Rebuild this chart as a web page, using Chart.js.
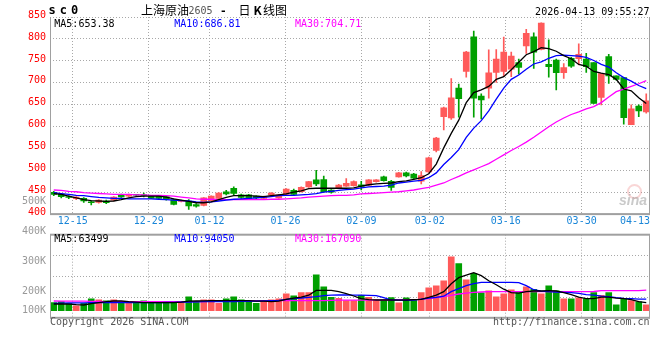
<!DOCTYPE html>
<html><head><meta charset="utf-8">
<script src="https://cdn.jsdelivr.net/npm/chart.js@4/dist/chart.umd.min.js"></script>
<style>
html,body{margin:0;padding:0;background:#fff;}
#wrap{position:relative;width:660px;height:360px;overflow:hidden;font-family:'DejaVu Sans Mono',monospace;}
canvas{position:absolute;left:0;top:0;}
.t{position:absolute;white-space:nowrap;font-size:10px;line-height:12px;font-family:'DejaVu Sans Mono',monospace;}
.cjk{position:absolute;white-space:nowrap;font-size:12px;line-height:14px;font-family:'Noto Sans CJK SC',sans-serif;color:#000;}
</style></head><body>
<div id="wrap">
<canvas id="pc" width="660" height="232"></canvas>
<canvas id="vc" width="660" height="360"></canvas>
</div>
<script>
// ---------- data ----------
const dates = ['12-10','12-11','12-12','12-15','12-16','12-17','12-18','12-19','12-22','12-23',
'12-24','12-25','12-26','12-29','12-30','12-31','01-05','01-06','01-07','01-08',
'01-09','01-12','01-13','01-14','01-15','01-16','01-19','01-20','01-21','01-22',
'01-23','01-26','01-27','01-28','01-29','01-30','02-02','02-03','02-04','02-05',
'02-06','02-09','02-10','02-11','02-12','02-13','02-24','02-25','02-26','02-27',
'03-02','03-03','03-04','03-05','03-06','03-09','03-10','03-11','03-12','03-13',
'03-16','03-17','03-18','03-19','03-20','03-23','03-24','03-25','03-26','03-27',
'03-30','03-31','04-01','04-02','04-03','04-07','04-08','04-09','04-10','04-13'];
const tickDates = ['12-15','12-29','01-12','01-26','02-09','03-02','03-16','03-30','04-13'];
const priceTicks = [400,450,500,550,600,650,700,750,800,850];
const volTickLabels = ['500K','400K','300K','200K','100K'];
const volTickValues = [500000,400000,300000,200000,100000];
const priceLegend = ['MA5:653.38','MA10:686.81','MA30:704.71'];
const volLegend = ['MA5:63499','MA10:94050','MA30:167090'];

const openP = [451,447,440,436,437,429,428,431,433,446,442,445,444,443,442,441,434,430,431,423,
421,432,437,452,460,445,445,442,437,445,438,446,455,452,463,479,480,456,460,465,
466,468,467,475,486,476,486,495,492,476,497,546,623,620,688,726,805,670,688,724,
726,731,746,784,805,776,742,752,723,756,755,754,746,667,760,716,712,605,647,634];
const closeP = [446,441,439,440,431,427,433,427,440,440,446,444,443,437,437,435,423,432,420,419,
438,442,449,447,448,439,437,438,441,449,445,458,446,462,475,470,452,451,467,471,
475,464,479,479,477,462,495,488,483,489,529,574,643,666,664,770,665,661,723,754,
770,761,735,813,770,836,737,723,735,738,765,737,653,721,716,708,621,641,636,659];
const highP = [453,448,443,441,439,431,434,433,441,447,447,446,449,444,443,442,436,433,434,425,
439,443,450,455,463,447,446,443,442,450,446,459,458,463,476,501,488,457,469,482,
477,476,480,480,488,478,496,497,494,498,531,576,645,710,697,772,818,675,775,776,
804,770,754,822,814,837,798,754,744,758,789,767,746,722,765,716,712,650,650,675];
const lowP = [443,438,436,434,428,422,426,425,431,439,441,442,440,436,436,433,422,429,412,417,
420,431,436,445,445,437,436,436,436,444,437,445,443,451,462,466,451,449,459,464,
465,456,466,474,476,455,485,486,482,470,496,543,593,617,622,713,622,618,665,701,
714,714,720,767,733,775,713,684,710,735,741,724,653,650,699,706,606,605,623,631];
const ma5 = [448,446,442,438,434,432,431,430,431,434,438,441,442,442,442,440,436,433,430,427,
427,429,434,439,443,443,443,442,441,443,445,447,451,454,459,460,460,460,460,460,
461,465,468,470,471,472,475,477,480,484,493,515,552,585,615,655,678,684,692,708,
714,730,747,764,771,780,778,772,762,755,742,738,726,722,719,708,686,682,666,653];
const ma10 = [450,448,446,444,443,441,439,438,437,437,436,436,436,436,435,434,433,432,431,429,
428,429,431,433,435,436,437,438,439,441,443,444,444,445,446,448,451,453,455,457,
458,461,463,464,465,467,472,474,476,478,484,495,514,530,548,576,597,614,636,663,
688,708,718,731,743,748,756,762,763,762,761,758,751,742,736,723,712,704,694,687];
const ma30 = [456,455,453,452,450,449,448,447,446,446,446,445,445,444,444,443,442,440,438,436,
435,435,434,434,434,434,434,434,434,435,435,436,437,438,440,441,442,443,444,444,
445,447,448,449,450,451,452,454,456,459,462,467,472,480,487,495,502,509,516,526,
536,546,555,565,576,588,600,611,620,628,634,641,646,655,668,680,686,692,698,705];
const volume = [64000,72000,58000,38000,58000,94000,86000,78000,86000,72000,
64000,64000,78000,64000,64000,64000,70000,70000,110000,70000,
86000,86000,58000,94000,110000,86000,72000,58000,72000,86000,
94000,134000,118000,144000,144000,286000,190000,106000,98000,80000,
80000,122000,106000,86000,86000,104000,62000,102000,86000,144000,
182000,198000,238000,430000,376000,246000,298000,142000,158000,110000,
134000,166000,144000,190000,170000,134000,198000,158000,94000,94000,
102000,94000,144000,122000,144000,46000,98000,80000,70000,46000];
const vma5 = [53600,53600,52000,48000,45600,56000,64000,72000,77600,77600,
72000,68000,64000,64000,64000,64000,64000,68000,76000,77600,
78400,80000,80000,80000,80000,80000,80000,76000,76000,72000,
76000,90400,100000,108000,124000,162400,162400,162400,152000,136000,
117600,96000,88000,85600,85600,85600,84000,85600,88000,90400,
106400,124000,152000,216000,264000,284000,304000,280000,240000,208000,
172000,144000,140000,152000,157600,157600,160000,157600,144000,128000,
108000,96000,96000,108000,108000,100000,96000,88000,72000,64000];
const vma10 = [58400,60000,61600,62400,62400,64000,64000,64000,64000,64000,
64000,64000,64000,64000,64000,65600,66400,68000,69600,70400,
72000,72000,72000,72800,73600,74400,75200,76000,77600,80000,
82400,90400,96000,101600,106400,112000,120000,124000,125600,125600,
124000,124000,122400,120000,104000,85600,84000,82400,84000,92000,
100000,106400,116000,152000,176000,200000,216000,226400,226400,226400,
226400,226400,224000,200000,168000,156000,152000,149600,146400,144000,
138400,128000,124000,116000,112000,104000,98400,96000,92000,92000];
const vma30 = [77600,76800,76000,76000,76000,75200,73600,72000,72000,72000,
72000,72000,72000,72000,72000,72000,72000,72000,72000,72000,
73600,76000,77600,80000,80000,80000,80000,80000,80000,80000,
80000,80000,80000,80000,80000,80000,80000,82400,84000,84000,
84000,84000,84000,84000,84000,85600,88000,88000,88000,90400,
96000,104000,112000,122400,133600,140000,146400,149600,152000,152000,
152000,152000,152000,152000,152000,152000,152000,152000,152000,152000,
152000,152000,153600,160000,160000,160000,160000,160000,160000,164000];

// ---------- styles ----------
const RED = '#ff5a5a', GREEN = '#00a000', GRID = '#a8a8a8', FRAME = '#a0a0a0';
const MA_COLORS = ['#000000', '#0000ff', '#ff00ff'];
Chart.defaults.font.family = "'DejaVu Sans Mono', monospace";
Chart.defaults.font.size = 10;

const idx = dates.map((d, i) => i);
const colors = idx.map(i => closeP[i] >= openP[i] ? RED : GREEN);
const tickIdx = tickDates.map(d => dates.indexOf(d));
const lastIdx = dates.length - 1;

const framePlugin = {
  id: 'frame',
  afterDraw(chart, args, opts) {
    const { ctx, chartArea: a } = chart;
    ctx.save();
    ctx.fillStyle = FRAME;
    ctx.fillRect(a.left, a.top, 1, a.bottom - a.top);           // left
    ctx.fillRect(a.right - 1, a.top, 1, a.bottom - a.top);      // right
    ctx.fillRect(a.left, a.bottom - 1.5, a.right - a.left, 2);  // bottom
    if (opts.solidTop) ctx.fillRect(a.left, a.top - 1, a.right - a.left, 2);
    ctx.restore();
  }
};

function xAxes(showLabels) {
  return {
    x: { type: 'linear', min: -0.5, max: lastIdx + 0.5, offset: false, display: false },
    xg: {
      type: 'linear', position: 'bottom', min: 0, max: lastIdx, offset: false,
      afterBuildTicks: ax => { ax.ticks = [0, ...tickIdx].map(v => ({ value: v })); },
      ticks: {
        display: showLabels, autoSkip: false, maxRotation: 0, minRotation: 0, align: 'inner', padding: 1,
        color: '#1a86d8', font: { size: 10 },
        callback: v => { const k = tickIdx.indexOf(v); return k >= 0 ? tickDates[k] : ''; }
      },
      grid: {
        drawTicks: false, lineWidth: 1, offset: false,
        color: c => (c.tick && (c.tick.value === 0 || c.tick.value === lastIdx)) ? 'rgba(0,0,0,0)' : GRID
      },
      border: { display: false, dash: [1, 2] },
      afterFit: s => { s.height = showLabels ? 17.4 : 0; }
    }
  };
}

function lineDs(label, arr, color) {
  return { type: 'line', label, xAxisID: 'x', data: idx.map(i => ({ x: i, y: arr[i] })),
    borderColor: color, borderWidth: 1.3, pointRadius: 0, tension: 0, order: 1 };
}

// ---------- price chart ----------
new Chart(document.getElementById('pc'), {
  data: {
    datasets: [
      lineDs('MA5', ma5, MA_COLORS[0]),
      lineDs('MA10', ma10, MA_COLORS[1]),
      lineDs('MA30', ma30, MA_COLORS[2]),
      { type: 'bar', label: 'wick', xAxisID: 'x', data: idx.map(i => ({ x: i, y: [lowP[i], highP[i]] })),
        backgroundColor: colors, barThickness: 1, grouped: false, order: 3 },
      { type: 'bar', label: 'body', xAxisID: 'x', data: idx.map(i => ({ x: i, y: [openP[i], closeP[i]] })),
        backgroundColor: colors, barThickness: 6, minBarLength: 1, grouped: false, order: 2 }
    ]
  },
  options: {
    responsive: false, animation: false, devicePixelRatio: 1,
    layout: { padding: { left: 0, right: 10, top: 17, bottom: 0 } },
    plugins: { legend: { display: false }, tooltip: { enabled: false }, frame: { solidTop: false } },
    scales: Object.assign(xAxes(true), {
      y: {
        type: 'linear', position: 'left', min: priceTicks[0], max: priceTicks[priceTicks.length - 1],
        afterBuildTicks: ax => { ax.ticks = priceTicks.map(v => ({ value: v })); },
        ticks: { color: '#ff0000', font: { size: 10 }, padding: 4, labelOffset: -2 },
        grid: { drawTicks: false, color: c => (c.tick && c.tick.value === priceTicks[0]) ? 'rgba(0,0,0,0)' : GRID },
        border: { display: false, dash: [1, 2] },
        afterFit: s => { s.width = 50; }
      }
    })
  },
  plugins: [framePlugin]
});

// ---------- volume chart ----------
const VMIN = -60800, VMAX = 608000;
new Chart(document.getElementById('vc'), {
  data: {
    datasets: [
      lineDs('VMA5', vma5, MA_COLORS[0]),
      lineDs('VMA10', vma10, MA_COLORS[1]),
      lineDs('VMA30', vma30, MA_COLORS[2]),
      { type: 'bar', label: 'vol', xAxisID: 'x', data: idx.map(i => ({ x: i, y: volume[i] })),
        backgroundColor: colors, barThickness: 6, grouped: false, order: 2 }
    ]
  },
  options: {
    responsive: false, animation: false, devicePixelRatio: 1,
    layout: { padding: { left: 0, right: 10, top: 234.7, bottom: 41.7 } },
    plugins: { legend: { display: false }, tooltip: { enabled: false }, frame: { solidTop: true } },
    scales: Object.assign(xAxes(false), {
      y: {
        type: 'linear', position: 'left', min: VMIN, max: VMAX,
        afterBuildTicks: ax => { const st = (VMAX - VMIN) / 4; ax.ticks = [0,1,2,3,4].map(k => ({ value: VMIN + k * st })); },
        ticks: { display: false },
        grid: { drawTicks: false, color: c => (c.tick && (c.index === 0 || c.index === 4)) ? 'rgba(0,0,0,0)' : GRID },
        border: { display: false, dash: [1, 2] },
        afterFit: s => { s.width = 50; }
      }
    })
  },
  plugins: [framePlugin]
});

// ---------- texts ----------
const wrap = document.getElementById('wrap');
function txt(s, css, cls) {
  const e = document.createElement('span');
  e.className = cls || 't';
  e.textContent = s;
  Object.assign(e.style, css);
  wrap.appendChild(e);
  return e;
}
txt('sc0', { left: '48.5px', top: '4px', fontSize: '12px', fontWeight: 'bold', letterSpacing: '4px', color: '#000' });
txt('上海原油', { left: '141px', top: '3px' }, 'cjk');
txt('2605', { left: '188.5px', top: '4.5px', color: '#555' });
txt('-', { left: '220px', top: '4.5px', color: '#000', fontWeight: 'bold', fontSize: '11px' });
txt('日', { left: '238.5px', top: '3px' }, 'cjk');
txt('K', { left: '253.5px', top: '3px', fontWeight: 'bold' }, 'cjk');
txt('线图', { left: '263px', top: '3px' }, 'cjk');
txt('2026-04-13 09:55:27', { right: '10.5px', top: '5.5px', color: '#000' });

const legLeft = [54.3, 174.3, 295];
priceLegend.forEach((s, k) => txt(s, { left: legLeft[k] + 'px', top: '17.7px', color: MA_COLORS[k] }));
volLegend.forEach((s, k) => txt(s, { left: legLeft[k] + 'px', top: '232.7px', color: MA_COLORS[k] }));

volTickLabels.forEach((s, k) => {
  const y = Math.min(310, 230.7 + (400000 - volTickValues[k]) / 100000 * 30);
  txt(s, { right: '614px', top: (y - 6) + 'px', color: '#999' });
});

txt('Copyright 2026 SINA.COM', { left: '50px', top: '316px', color: '#555' });
txt('http://finance.sina.com.cn', { right: '10.5px', top: '316px', color: '#555' });

// faint watermark
const eye = document.createElement('div');
Object.assign(eye.style, { position: 'absolute', left: '627px', top: '184px', width: '11px', height: '11px',
  borderRadius: '50%', border: '2px solid rgba(235,120,120,0.3)' });
wrap.appendChild(eye);
txt('sina', { left: '619px', top: '193px', fontSize: '14px', lineHeight: '14px', fontStyle: 'italic', fontWeight: 'bold',
  color: 'rgba(150,150,150,0.5)', fontFamily: 'Liberation Sans, sans-serif' });
</script>
</body></html>
